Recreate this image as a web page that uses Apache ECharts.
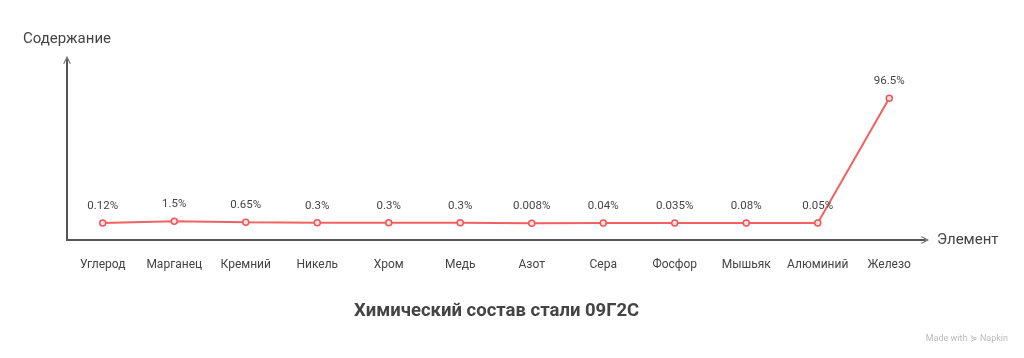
<!DOCTYPE html>
<html><head><meta charset="utf-8">
<script src="https://cdn.jsdelivr.net/npm/echarts@6/dist/echarts.min.js"></script>
<style>html,body{margin:0;padding:0;background:#fff}#c{width:1024px;height:358px}</style>
</head><body><div id="c"></div>
<script>
const categories = ['Углерод','Марганец','Кремний','Никель','Хром','Медь','Азот','Сера','Фосфор','Мышьяк','Алюминий','Железо'];
const values = [0.12, 1.5, 0.65, 0.3, 0.3, 0.3, 0.008, 0.04, 0.035, 0.08, 0.05, 96.5];
const titleText = 'Химический состав стали 09Г2С';
const xName = 'Элемент';
const yName = 'Содержание';

const chevron = 'path://M0,10 L5,0 L10,10 L9,10.8 L5,2.6 L1,10.8 Z';
const chart = echarts.init(document.getElementById('c'), null, {renderer:'canvas'});
chart.setOption({
  animation:false,
  textStyle:{fontFamily:'Roboto'},
  title:{text:titleText,left:349,top:297,textStyle:{fontFamily:'Roboto',fontSize:18.5,fontWeight:'bold',color:'#444'}},
  graphic:[{type:'text',right:16,top:334,style:{text:'Made with ⋟ Napkin',fontFamily:'Roboto',fontSize:9,fill:'#bbb'}}],
  grid:{left:67,top:60,width:858,height:180},
  xAxis:{type:'category',data:categories,boundaryGap:true,
    name:xName,nameLocation:'end',nameGap:12,
    nameTextStyle:{fontFamily:'Roboto',fontSize:15,color:'#444'},
    axisLine:{onZero:false,lineStyle:{color:'#555',width:2},symbol:['none',chevron],symbolSize:[10,8]},
    axisTick:{show:false},
    axisLabel:{interval:0,fontFamily:'Roboto',fontSize:12,color:'#444',margin:19}},
  yAxis:{type:'value',min:-13,max:126,
    name:yName,nameLocation:'end',nameGap:13,
    nameTextStyle:{fontFamily:'Roboto',fontSize:15,color:'#444',align:'center'},
    axisLine:{show:true,lineStyle:{color:'#555',width:2},symbol:['none',chevron],symbolSize:[10,8]},
    axisTick:{show:false},axisLabel:{show:false},splitLine:{show:false}},
  series:[{type:'line',data:values,symbol:'circle',symbolSize:6,
    lineStyle:{color:'#f26161',width:2},
    itemStyle:{color:'#fde3e3',borderColor:'#f05555',borderWidth:1.5},
    label:{show:true,position:'top',distance:7,formatter:'{c}%',fontFamily:'Roboto',fontSize:11.5,color:'#444'}}]
});
</script></body></html>
